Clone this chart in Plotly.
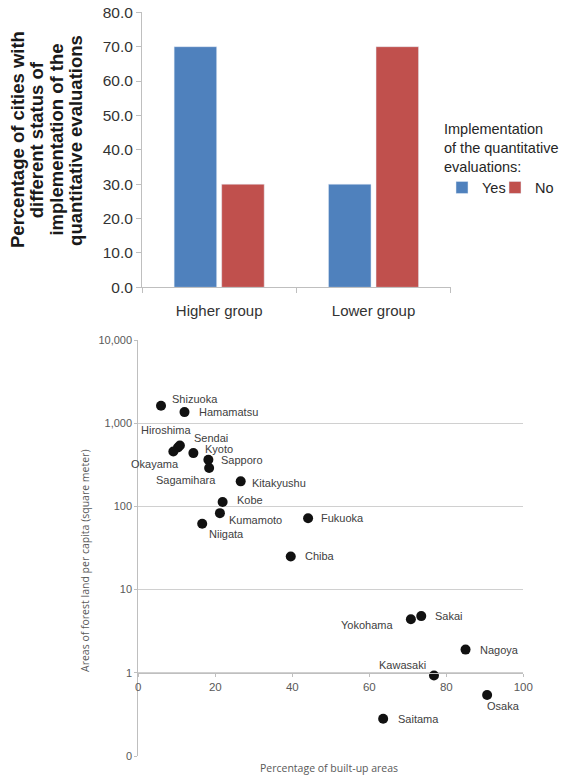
import numpy as np
import plotly.graph_objects as go

# ---------------- data ----------------
categories = ["Higher group", "Lower group"]
yes_pct = [70.0, 30.0]
no_pct = [30.0, 70.0]

cities = ["Shizuoka", "Hamamatsu", "Hiroshima", "Sendai", "Okayama", "Kyoto",
          "Sapporo", "Sagamihara", "Kitakyushu", "Kobe", "Kumamoto", "Niigata",
          "Fukuoka", "Chiba", "Yokohama", "Sakai", "Nagoya", "Kawasaki",
          "Osaka", "Saitama"]
built_up = [5.9, 12.0, 10.3, 10.8, 9.1, 14.3, 18.2, 18.4, 26.6, 21.9, 21.2, 16.6,
            44.1, 39.6, 70.8, 73.5, 85.0, 76.8, 90.6, 63.6]
forest = [1620, 1360, 510, 540, 457, 437, 364, 289, 200, 113, 83, 62,
          72, 25, 4.4, 4.8, 1.9, 0.93, 0.54, 0.28]

y_ticks_log = [0.1, 1, 10, 100, 1000, 10000]
x_ticks = [0, 20, 40, 60, 80, 100]

# label placement (anchor, x shift px, y shift px)
label_pos = {
    "Shizuoka": ("left", 9, 7), "Hamamatsu": ("left", 12, 0),
    "Hiroshima": ("center", -12, 18), "Sendai": ("left", 12, 7),
    "Okayama": ("center", -18, -13), "Kyoto": ("left", 10, 4),
    "Sapporo": ("left", 11, 0), "Sagamihara": ("center", -23, -12),
    "Kitakyushu": ("left", 9, -2), "Kobe": ("left", 12, 2),
    "Kumamoto": ("left", 7, -7), "Niigata": ("left", 5, -10),
    "Fukuoka": ("left", 11, 0), "Chiba": ("left", 12, 0),
    "Yokohama": ("center", -44, -6), "Sakai": ("left", 12, 0),
    "Nagoya": ("left", 12, 0), "Kawasaki": ("center", -31, 10),
    "Osaka": ("center", 16, -11), "Saitama": ("left", 13, 0),
}

W, H = 572, 777
BLUE, RED = "#4F81BD", "#C0504D"
AX = "#BFBFBF"
GRID = "#D0D0D0"
FONT = "Liberation Sans, Arial, sans-serif"

def px_x(p):
    return p / W

def px_y(p):
    return 1 - p / H

fig = go.Figure()

fig.add_trace(go.Bar(x=categories, y=yes_pct, name="Yes", marker_color=BLUE,
                     xaxis="x", yaxis="y"))
fig.add_trace(go.Bar(x=categories, y=no_pct, name="No", marker_color=RED,
                     xaxis="x", yaxis="y"))

fig.add_trace(go.Scatter(x=built_up, y=forest, mode="markers", showlegend=False,
                         marker=dict(size=10, color="#111111"),
                         xaxis="x2", yaxis="y2", cliponaxis=False))

annotations = []
for c, xv, yv in zip(cities, built_up, forest):
    anc, dx, dy = label_pos[c]
    annotations.append(dict(x=xv, y=float(np.log10(yv)), xref="x2", yref="y2",
                            text=c, showarrow=False, xanchor=anc, yanchor="middle",
                            xshift=dx, yshift=dy,
                            font=dict(family=FONT, size=11, color="#404040")))

# top y-axis title, one annotation per line
title_lines = ["Percentage of cities with", "different status of",
               "implementation of the", "quantitative evaluations"]
for i, t in enumerate(title_lines):
    annotations.append(dict(x=px_x(18 + 19.3 * i), y=px_y(140), xref="paper", yref="paper",
                            text="<b>%s</b>" % t, showarrow=False, textangle=-90,
                            xanchor="center", yanchor="middle",
                            font=dict(family=FONT, size=18.5, color="#1A1A1A")))

annotations.append(dict(x=px_x(85), y=px_y(561), xref="paper", yref="paper",
                        text="Areas of forest land per capita (square meter)",
                        showarrow=False, textangle=-90, xanchor="center", yanchor="middle",
                        font=dict(family="Open Sans, sans-serif", size=10.5, color="#595959")))
annotations.append(dict(x=px_x(329), y=px_y(768), xref="paper", yref="paper",
                        text="Percentage of built-up areas",
                        showarrow=False, xanchor="center", yanchor="middle",
                        font=dict(family="Open Sans, sans-serif", size=10.5, color="#595959")))

fig.update_layout(
    width=W, height=H, autosize=False,
    margin=dict(l=0, r=0, t=0, b=0),
    paper_bgcolor="white", plot_bgcolor="white",
    font=dict(family=FONT, color="#404040"),
    barmode="group", bargap=0.384, bargroupgap=0.105,
    xaxis=dict(domain=[px_x(142), px_x(450.7)], anchor="y",
               showline=True, linecolor=AX, linewidth=1,
               ticks="outside", ticklen=5, tickcolor=AX, tickson="boundaries",
               tickfont=dict(size=15, color="#333333"), ticklabelstandoff=10,
               showgrid=False, automargin=False),
    yaxis=dict(domain=[px_y(287.3), px_y(12.3)], anchor="x",
               range=[0, 80], dtick=10, tickformat=".1f",
               showline=True, linecolor=AX, linewidth=1,
               ticks="outside", ticklen=5, tickcolor=AX,
               tickfont=dict(size=15.5, color="#333333"),
               showgrid=False, zeroline=False, automargin=False),
    xaxis2=dict(domain=[px_x(138.3), px_x(523.3)], anchor="free", position=px_y(673.3),
                range=[0, 100], tickvals=x_ticks,
                showline=True, linecolor=AX, linewidth=1,
                ticks="outside", ticklen=3, tickcolor=AX,
                tickfont=dict(size=11.5, color="#595959"),
                showgrid=False, zeroline=False, automargin=False),
    yaxis2=dict(domain=[px_y(756), px_y(340)], anchor="x2", type="log",
                range=[-1, 4], tickvals=y_ticks_log, tickformat=",.0f",
                showline=True, linecolor=AX, linewidth=1,
                ticks="outside", ticklen=3, tickcolor=AX,
                tickfont=dict(size=11, color="#595959"),
                showgrid=True, gridcolor=GRID, gridwidth=1.3,
                zeroline=False, automargin=False),
    legend=dict(orientation="h", x=px_x(442), y=px_y(115), xanchor="left", yanchor="top",
                title=dict(text="Implementation<br>of the quantitative<br>evaluations:",
                           side="top", font=dict(size=14.5, color="#262626")),
                font=dict(size=14.5, color="#262626"),
                bgcolor="rgba(0,0,0,0)", itemwidth=30, tracegroupgap=0,
                entrywidth=8, entrywidthmode="pixels"),
    annotations=annotations,
)

fig.write_html("out.html",
               config={"responsive": False, "displayModeBar": False},
               post_script=("document.documentElement.style.overflow='hidden';"
                            "document.body.style.overflow='hidden';"
                            "document.body.style.margin='0';document.body.style.padding='0';"
                            "window.scrollTo(0,0);"))
